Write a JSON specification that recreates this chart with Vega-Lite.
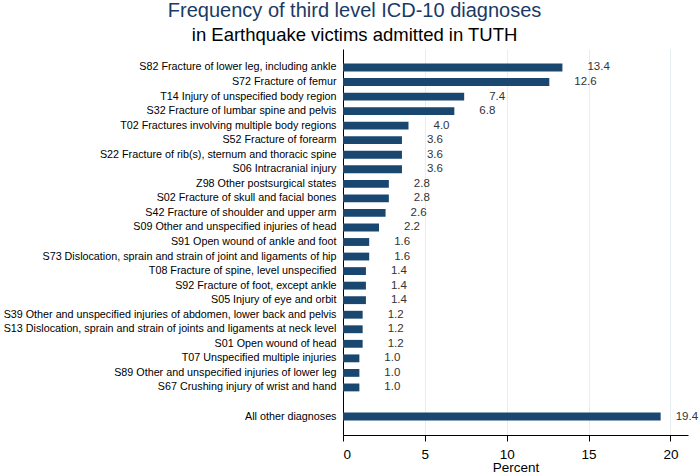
{
  "$schema": "https://vega.github.io/schema/vega-lite/v6.json",
  "width": 345,
  "height": 386,
  "autosize": {"type": "none"},
  "padding": {"left": 343, "top": 49, "right": 12, "bottom": 41},
  "background": "white",
  "config": {
    "view": {"stroke": null},
    "font": "Liberation Sans"
  },
  "title": {
    "text": "Frequency of third level ICD-10 diagnoses",
    "subtitle": "in Earthquake victims admitted in TUTH",
    "anchor": "middle",
    "frame": "bounds",
    "dx": 4,
    "fontSize": 20,
    "fontWeight": "normal",
    "color": "#1a3a66",
    "subtitleFontSize": 18.5,
    "subtitleColor": "#000000",
    "subtitlePadding": 5,
    "offset": 4.5
  },
  "data": {
    "values": [
      {"diag": "S82 Fracture of lower leg, including ankle", "pct": 13.4},
      {"diag": "S72 Fracture of femur", "pct": 12.6},
      {"diag": "T14 Injury of unspecified body region", "pct": 7.4},
      {"diag": "S32 Fracture of lumbar spine and pelvis", "pct": 6.8},
      {"diag": "T02 Fractures involving multiple body regions", "pct": 4.0},
      {"diag": "S52 Fracture of forearm", "pct": 3.6},
      {"diag": "S22 Fracture of rib(s), sternum and thoracic spine", "pct": 3.6},
      {"diag": "S06 Intracranial injury", "pct": 3.6},
      {"diag": "Z98 Other postsurgical states", "pct": 2.8},
      {"diag": "S02 Fracture of skull and facial bones", "pct": 2.8},
      {"diag": "S42 Fracture of shoulder and upper arm", "pct": 2.6},
      {"diag": "S09 Other and unspecified injuries of head", "pct": 2.2},
      {"diag": "S91 Open wound of ankle and foot", "pct": 1.6},
      {"diag": "S73 Dislocation, sprain and strain of joint and ligaments of hip", "pct": 1.6},
      {"diag": "T08 Fracture of spine, level unspecified", "pct": 1.4},
      {"diag": "S92 Fracture of foot, except ankle", "pct": 1.4},
      {"diag": "S05 Injury of eye and orbit", "pct": 1.4},
      {"diag": "S39 Other and unspecified injuries of abdomen, lower back and pelvis", "pct": 1.2},
      {"diag": "S13 Dislocation, sprain and strain of joints and ligaments at neck level", "pct": 1.2},
      {"diag": "S01 Open wound of head", "pct": 1.2},
      {"diag": "T07 Unspecified multiple injuries", "pct": 1.0},
      {"diag": "S89 Other and unspecified injuries of lower leg", "pct": 1.0},
      {"diag": "S67 Crushing injury of wrist and hand", "pct": 1.0},
      {"diag": "All other diagnoses", "pct": 19.4}
    ]
  },
  "encoding": {
    "y": {
      "field": "diag",
      "type": "nominal",
      "sort": null,
      "scale": {
        "domain": [
          "S82 Fracture of lower leg, including ankle",
          "S72 Fracture of femur",
          "T14 Injury of unspecified body region",
          "S32 Fracture of lumbar spine and pelvis",
          "T02 Fractures involving multiple body regions",
          "S52 Fracture of forearm",
          "S22 Fracture of rib(s), sternum and thoracic spine",
          "S06 Intracranial injury",
          "Z98 Other postsurgical states",
          "S02 Fracture of skull and facial bones",
          "S42 Fracture of shoulder and upper arm",
          "S09 Other and unspecified injuries of head",
          "S91 Open wound of ankle and foot",
          "S73 Dislocation, sprain and strain of joint and ligaments of hip",
          "T08 Fracture of spine, level unspecified",
          "S92 Fracture of foot, except ankle",
          "S05 Injury of eye and orbit",
          "S39 Other and unspecified injuries of abdomen, lower back and pelvis",
          "S13 Dislocation, sprain and strain of joints and ligaments at neck level",
          "S01 Open wound of head",
          "T07 Unspecified multiple injuries",
          "S89 Other and unspecified injuries of lower leg",
          "S67 Crushing injury of wrist and hand",
          " ",
          "All other diagnoses"
        ],
        "paddingInner": 0.46,
        "paddingOuter": 1.42
      },
      "axis": {
        "title": null,
        "ticks": false,
        "labelFontSize": 10.75,
        "labelLimit": 0,
        "labelColor": "#000000",
        "labelPadding": 7,
        "domainColor": "#000000",
        "domainWidth": 1,
        "grid": false
      }
    },
    "x": {
      "field": "pct",
      "type": "quantitative",
      "scale": {"domain": [0, 21.07], "nice": false, "zero": true},
      "axis": {
        "title": "Percent",
        "titleFontSize": 13.5,
        "titleFontWeight": "normal",
        "titleColor": "#000000",
        "titlePadding": 0,
        "values": [0, 5, 10, 15, 20],
        "labelFontSize": 13.5,
        "labelColor": "#000000",
        "labelPadding": 6,
        "tickSize": 6,
        "tickColor": "#000000",
        "domainColor": "#000000",
        "grid": true,
        "gridColor": "#e6eef2",
        "gridWidth": 1
      }
    }
  },
  "layer": [
    {"mark": {"type": "bar", "color": "#1a476f"}},
    {
      "transform": [{"filter": "datum.diag !== 'All other diagnoses'"}],
      "mark": {"type": "text", "align": "left", "dx": 25, "fontSize": 11.5, "color": "#333333", "baseline": "middle"},
      "encoding": {"text": {"field": "pct", "type": "quantitative", "format": ".1f"}}
    },
    {
      "transform": [{"filter": "datum.diag === 'All other diagnoses'"}],
      "mark": {"type": "text", "align": "left", "dx": 15, "fontSize": 11.5, "color": "#333333", "baseline": "middle"},
      "encoding": {"text": {"field": "pct", "type": "quantitative", "format": ".1f"}}
    }
  ]
}
